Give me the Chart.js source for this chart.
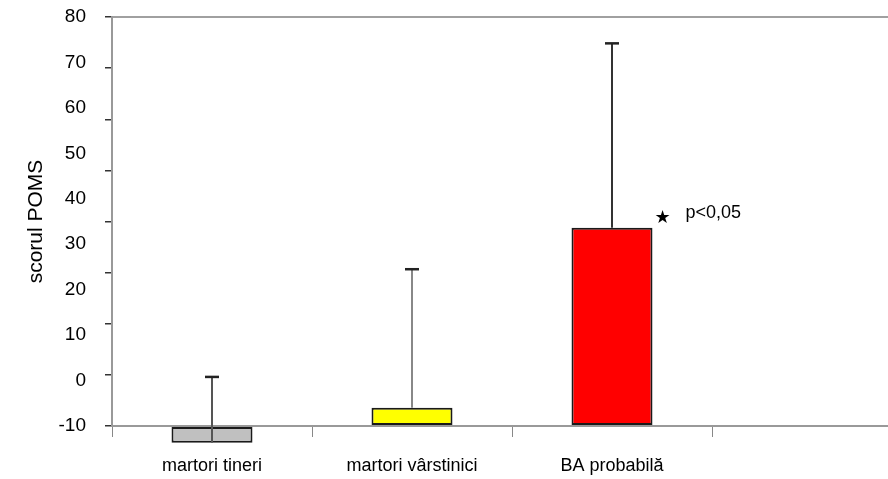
<!DOCTYPE html>
<html>
<head>
<meta charset="utf-8">
<script src="https://cdn.jsdelivr.net/npm/chart.js@4.4.1/dist/chart.umd.min.js"></script>
<style>
  html, body { margin: 0; padding: 0; background: #fff; overflow: hidden; }
  /* plot area runs past the right edge of the window, as in the original crop */
  #wrap { width: 912px; height: 479px; }
</style>
</head>
<body>
<div id="wrap"><canvas id="poms-chart"></canvas></div>
<script>
// groups on the x axis (last slot stays empty, like in the original figure)
const categories = ["martori tineri", "martori vârstinici", "BA probabilă", ""];
// mean POMS score per group and the upper end of its error bar
const means = [-13.7, -6, 33.6, null];
const errTop = [0.8, 24.5, 74.2, null];
// value axis labels
const yTicks = [-10, 0, 10, 20, 30, 40, 50, 60, 70, 80];
const note = "p<0,05";

const barColors = ["#c0c0c0", "#ffff00", "#ff0000", "#fff"];
const errColors = ["#555", "#888", "#333", "#000"];
const FONT = "'Liberation Sans', Arial, sans-serif";

const errorBars = {
  id: "errorBars",
  afterDatasetsDraw(chart) {
    const ctx = chart.ctx;
    const y = chart.scales.y;
    const meta = chart.getDatasetMeta(0);
    ctx.save();
    meta.data.forEach((bar, i) => {
      if (means[i] == null) return;
      const x = bar.x;
      const y0 = y.getPixelForValue(means[i]);
      const y1 = y.getPixelForValue(errTop[i]);
      ctx.strokeStyle = errColors[i];
      ctx.lineWidth = 2;
      ctx.beginPath();
      ctx.moveTo(x, y0);
      ctx.lineTo(x, y1);
      ctx.stroke();
      ctx.strokeStyle = "#222";
      ctx.lineWidth = 2.5;
      ctx.beginPath();
      ctx.moveTo(x - 7, y1);
      ctx.lineTo(x + 7, y1);
      ctx.stroke();
    });
    // significance mark next to the last bar
    const red = meta.data[2];
    const right = red.x + red.width / 2;
    const top = y.getPixelForValue(means[2]);
    ctx.fillStyle = "#000";
    ctx.textBaseline = "middle";
    ctx.textAlign = "center";
    ctx.font = "18px 'DejaVu Sans'";
    ctx.fillText("★", right + 10, top - 10);
    ctx.textAlign = "left";
    ctx.font = "18px " + FONT;
    ctx.fillText(note, right + 33, top - 15);
    ctx.restore();
  }
};

new Chart(document.getElementById("poms-chart"), {
  type: "bar",
  data: {
    labels: categories,
    datasets: [{
      label: "scorul POMS",
      data: means,
      base: -10,
      clip: false,
      backgroundColor: barColors,
      borderColor: "#1a1a1a",
      borderWidth: 2,
      borderSkipped: false,
      barPercentage: 1,
      categoryPercentage: 0.405
    }]
  },
  options: {
    responsive: true,
    maintainAspectRatio: false,
    animation: false,
    layout: { padding: { top: 17, right: 0, bottom: 0, left: 0 } },
    plugins: {
      legend: { display: false },
      title: { display: false },
      tooltip: { enabled: false }
    },
    scales: {
      x: {
        type: "category",
        afterFit: s => { s.height = 53; s.paddingLeft = 0; s.paddingRight = 0; },
        grid: { offset: true, drawOnChartArea: false, tickLength: 11, color: "#888", lineWidth: 1 },
        border: { color: "#999", width: 2 },
        ticks: { color: "#000", font: { size: 18, family: FONT }, padding: 18, maxRotation: 0 }
      },
      y: {
        position: "left",
        weight: 1,
        min: -10,
        max: 80,
        afterBuildTicks: s => { s.ticks = yTicks.map(v => ({ value: v })); },
        afterFit: s => { s.width = 105; s.paddingTop = 0; s.paddingBottom = 0; },
        grid: {
          drawTicks: false,
          lineWidth: 2,
          color: c => (c.tick && c.tick.value === 80 ? "#a0a0a0" : "rgba(0,0,0,0)")
        },
        border: { display: false },
        ticks: { color: "#000", font: { size: 19, family: FONT }, padding: 19 },
        title: {
          display: true,
          text: "scorul POMS",
          color: "#000",
          font: { size: 21, family: FONT },
          padding: { top: 24, bottom: 0 }
        }
      },
      y2: {
        position: "left",
        weight: 0,
        min: 0,
        max: 80,
        afterFit: s => { s.width = 7; s.paddingTop = 0; s.paddingBottom = 0; },
        ticks: { display: false, stepSize: 10 },
        grid: { drawOnChartArea: false, drawTicks: true, tickLength: 7, color: "#333", lineWidth: 1.5 },
        border: { color: "#999", width: 2 }
      }
    }
  },
  plugins: [errorBars]
});
</script>
</body>
</html>
